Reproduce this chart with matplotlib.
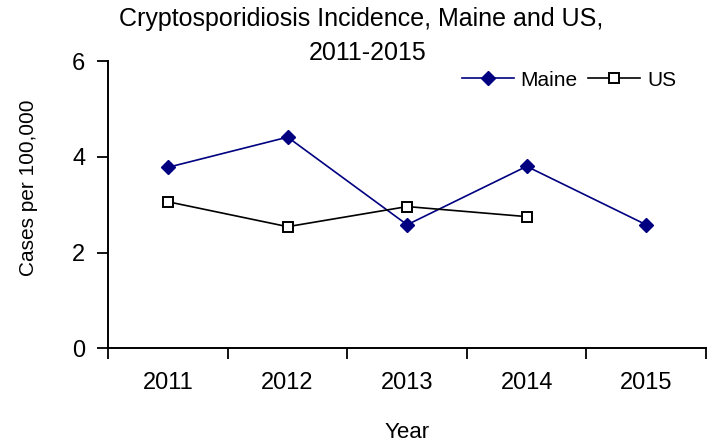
import matplotlib
matplotlib.use("Agg")
import matplotlib.pyplot as plt
import numpy as np

# Values (cases per 100,000)
years = ['2011', '2012', '2013', '2014', '2015']
maine = [3.78, 4.41, 2.58, 3.8, 2.58]
us = [3.06, 2.54, 2.96, 2.75, np.nan]   # no US value for 2015

plt.rcParams['font.family'] = ['Liberation Sans', 'DejaVu Sans']

fig = plt.figure(figsize=(7.08, 4.47), dpi=100)
ax = fig.add_axes([108.3 / 708, 98.7 / 447, 597.7 / 708, 287.3 / 447])

x = np.arange(1, len(years) + 1)
ax.plot(x, maine, color='#000080', marker='D', markersize=7.5, linewidth=1.2,
        clip_on=False, label='Maine')
ax.plot(x, us, color='black', marker='s', markersize=7.5, markerfacecolor='white',
        markeredgecolor='black', markeredgewidth=1.4, linewidth=1.2,
        clip_on=False, label='US')

# category axis: ticks between categories, labels in the middle
ax.set_xlim(0.5, len(years) + 0.5)
ax.set_ylim(0, 6)
ax.set_yticks([0, 2, 4, 6])
ax.set_xticks(np.arange(0.5, len(years) + 1, 1))
ax.set_xticklabels([])
ax.set_xticks(x, minor=True)
ax.set_xticklabels(years, minor=True)
ax.tick_params(axis='x', which='major', direction='out', length=8, width=1.3)
ax.tick_params(axis='x', which='minor', length=0, pad=17, labelsize=17)
ax.tick_params(axis='y', direction='out', length=8, width=1.3, labelsize=17, pad=8.5)

for s in ['top', 'right']:
    ax.spines[s].set_visible(False)
for s in ['left', 'bottom']:
    ax.spines[s].set_linewidth(1.4)

ax.set_xlabel('Year', fontsize=16)
ax.xaxis.set_label_coords(0.5, -0.255)
ax.set_ylabel('Cases per 100,000', fontsize=15)
ax.yaxis.set_label_coords(-0.117, 0.558)

# two-line title
fig.text(361 / 708, 1 - 26 / 447, 'Cryptosporidiosis Incidence, Maine and US,',
         ha='center', va='baseline', fontsize=18)
fig.text(368 / 708, 1 - 60 / 447, '2011-2015', ha='center', va='baseline', fontsize=18)

fig.legend(loc='center left', bbox_to_anchor=(462 / 708, 1 - 80 / 447), ncol=2,
           frameon=False, fontsize=15, handlelength=2.5, columnspacing=0.5,
           handletextpad=0.32, borderpad=0, borderaxespad=0)

plt.savefig('out.png', dpi=100)
